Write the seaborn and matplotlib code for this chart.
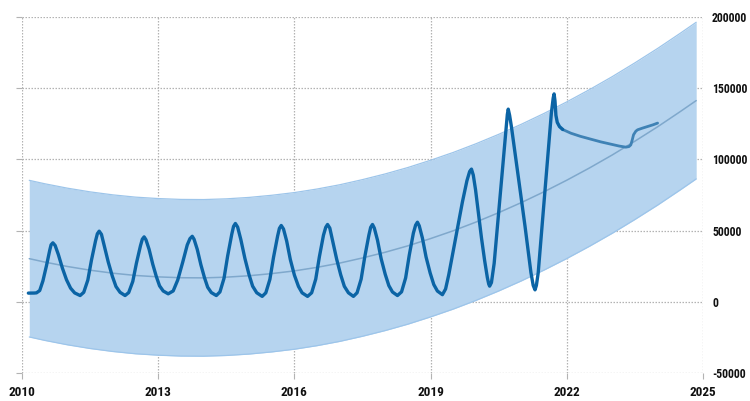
import matplotlib
matplotlib.use("Agg")
import matplotlib.pyplot as plt
from matplotlib import font_manager
import seaborn as sns
import pandas as pd

# ---- data ----
main_t = [2010.14, 2010.20, 2010.27, 2010.32, 2010.39, 2010.46, 2010.54, 2010.61, 2010.64, 2010.68,
          2010.73, 2010.80, 2010.89, 2010.98, 2011.07, 2011.16, 2011.28,
          2011.36, 2011.45, 2011.53, 2011.62, 2011.66, 2011.70,
          2011.75, 2011.81, 2011.90, 2011.99, 2012.07, 2012.16, 2012.27,
          2012.35, 2012.44, 2012.52, 2012.61, 2012.65, 2012.69,
          2012.73, 2012.80, 2012.88, 2012.96, 2013.03, 2013.11, 2013.22,
          2013.33, 2013.43, 2013.54, 2013.64, 2013.70, 2013.75,
          2013.79, 2013.86, 2013.94, 2014.02, 2014.09, 2014.17, 2014.28,
          2014.36, 2014.45, 2014.53, 2014.62, 2014.66, 2014.70,
          2014.75, 2014.82, 2014.91, 2015.00, 2015.08, 2015.17, 2015.29,
          2015.37, 2015.46, 2015.54, 2015.63, 2015.67, 2015.71,
          2015.76, 2015.83, 2015.91, 2016.00, 2016.09, 2016.17, 2016.29,
          2016.38, 2016.47, 2016.55, 2016.64, 2016.69, 2016.73,
          2016.78, 2016.84, 2016.93, 2017.02, 2017.10, 2017.19, 2017.30,
          2017.38, 2017.47, 2017.55, 2017.64, 2017.68, 2017.72,
          2017.76, 2017.83, 2017.91, 2018.00, 2018.08, 2018.16, 2018.27,
          2018.36, 2018.45, 2018.53, 2018.62, 2018.67, 2018.71,
          2018.75, 2018.82, 2018.90, 2018.99, 2019.07, 2019.15, 2019.26,
          2019.33, 2019.40, 2019.50, 2019.60, 2019.70, 2019.80, 2019.86, 2019.90,
          2019.94, 2019.99, 2020.05, 2020.12, 2020.19, 2020.25, 2020.28, 2020.30,
          2020.34, 2020.40, 2020.47, 2020.53, 2020.60, 2020.66, 2020.69, 2020.71,
          2020.74, 2020.78, 2020.88, 2020.98, 2021.08, 2021.16, 2021.21, 2021.26, 2021.30,
          2021.33, 2021.37, 2021.45, 2021.53, 2021.60, 2021.66, 2021.70, 2021.72,
          2021.74, 2021.76, 2021.79, 2021.84, 2021.91]
main_v = [6100, 6100, 6150, 6300, 7900, 14600, 25500, 36100, 40000, 41400,
          39550, 33260, 23640, 15500, 9580, 6250, 4400,
          6660, 15250, 29260, 42820, 47790, 49600,
          47340, 39660, 27900, 17960, 10730, 6660, 4400,
          6460, 14290, 27060, 39420, 43950, 45600,
          43600, 36800, 26400, 17600, 11200, 7600, 5600,
          7620, 15300, 27820, 39940, 44380, 46000,
          43920, 36850, 26030, 16880, 10220, 6480, 4400,
          6930, 16540, 32230, 47410, 52980, 55000,
          52440, 43740, 30420, 19160, 10970, 6360, 3800,
          6290, 15750, 31190, 46130, 51610, 53600,
          51110, 42640, 29700, 18740, 10770, 6290, 3800,
          6330, 15920, 31580, 46730, 52280, 54300,
          51780, 43190, 30060, 18950, 10870, 6330, 3800,
          6330, 15920, 31580, 46730, 52280, 54300,
          51800, 43320, 30350, 19370, 11390, 6900, 4400,
          6980, 16760, 32730, 48180, 53840, 55900,
          53360, 44700, 31470, 20270, 12130, 7550, 5000,
          9000, 19000, 36000, 53000, 70000, 85000, 91500, 93200,
          89000, 78700, 63000, 45000, 29000, 17000, 12500, 11000,
          13500, 27000, 52000, 74000, 99000, 121000, 131500, 135300,
          131000, 123000, 100000, 76500, 53000, 33000, 20500, 11500, 8400,
          11500, 20300, 51200, 82200, 109300, 132500, 143000, 146000,
          141000, 131000, 126000, 123000, 121000]

tail_t = [2021.91, 2022.09, 2022.30, 2022.53, 2022.75, 2022.97, 2023.15, 2023.30, 2023.37,
          2023.41, 2023.44, 2023.47, 2023.52, 2023.56, 2023.67, 2023.78, 2023.90, 2024.00]
tail_v = [121000, 118400, 116200, 114200, 112300, 110700, 109400, 108600, 109000,
          110200, 113500, 117300, 119800, 120800, 122000, 123100, 124300, 125500]

band_t = [2010.16, 2010.5, 2011.0, 2011.5, 2012.0, 2012.5, 2013.0, 2013.5, 2014.0, 2014.5,
          2015.0, 2015.5, 2016.0, 2016.5, 2017.0, 2017.5, 2018.0, 2018.5, 2019.0, 2019.5,
          2020.0, 2020.5, 2021.0, 2021.5, 2022.0, 2022.5, 2023.0, 2023.5, 2024.0, 2024.5, 2024.85]
trend = [30300, 27900, 24800, 22200, 20100, 18500, 17500, 16900, 16800, 17300,
         18300, 19800, 21700, 24200, 27200, 30800, 34800, 39300, 44400, 49900,
         56000, 62600, 69700, 77300, 85400, 94000, 103100, 112800, 122900, 133600, 141300]
lower = [-24700, -27100, -30200, -32800, -34900, -36500, -37500, -38100, -38200, -37700,
         -36700, -35200, -33300, -30800, -27800, -24200, -20200, -15700, -10600, -5100,
         1000, 7600, 14700, 22300, 30400, 39000, 48100, 57800, 67900, 78600, 86300]
upper = [85300, 82900, 79800, 77200, 75100, 73500, 72500, 71900, 71800, 72300,
         73300, 74800, 76700, 79200, 82200, 85800, 89800, 94300, 99400, 104900,
         111000, 117600, 124700, 132300, 140400, 149000, 158100, 167800, 177900, 188600, 196300]

x_ticks = [2010, 2013, 2016, 2019, 2022, 2025]
y_ticks = [-50000, 0, 50000, 100000, 150000, 200000]

# ---- font choice: a narrow bold face like the reference ----
sns.set_style("white")
ttf = font_manager.fontManager.ttflist
names = {f.name for f in ttf}
label_font = None
xsize, ysize = 9.5, 8.5
label_stretch = "normal"
for cand in ["Roboto Condensed", "Liberation Sans Narrow",
             "Open Sans Condensed", "Noto Sans Condensed"]:
    if cand in names:
        label_font = cand
        break
if label_font is None:
    if any(f.name == "DejaVu Sans" and f.stretch not in ("normal", 500) for f in ttf):
        label_font, xsize, ysize, label_stretch = "DejaVu Sans", 8.5, 7.5, "condensed"
    elif "Roboto" in names:
        label_font, xsize, ysize = "Roboto", 9, 8
    else:
        label_font, xsize, ysize = "DejaVu Sans", 8, 7
plt.rcParams['font.family'] = [label_font, 'DejaVu Sans']

# ---- drawing ----
fig = plt.figure(figsize=(7.5, 4.01), dpi=100)
ax = fig.add_axes([22 / 750, 1 - 373 / 401, (703 - 22) / 750, (373 - 17) / 401])

band_df = pd.DataFrame({"t": band_t, "trend": trend, "lower": lower, "upper": upper})
ax.fill_between(band_df["t"], band_df["lower"], band_df["upper"],
                color="#b6d4ef", linewidth=0, zorder=1)
sns.lineplot(data=band_df, x="t", y="upper", ax=ax, color="#9dc5ea", lw=0.9, zorder=2)
sns.lineplot(data=band_df, x="t", y="lower", ax=ax, color="#9dc5ea", lw=0.9, zorder=2)
sns.lineplot(data=band_df, x="t", y="trend", ax=ax, color="#7fa8cc", lw=1.1, zorder=3)

main_df = pd.DataFrame({"t": main_t, "v": main_v})
tail_df = pd.DataFrame({"t": tail_t, "v": tail_v})
sns.lineplot(data=tail_df, x="t", y="v", ax=ax, color="#3f82b5", lw=2.0, zorder=4)
sns.lineplot(data=main_df, x="t", y="v", ax=ax, color="#0b64a5", lw=2.4, zorder=5)

ax.set_xlim(2010, 2025)
ax.set_ylim(-50000, 200000)
ax.set_xticks(x_ticks)
ax.set_yticks(y_ticks)
ax.set_xticklabels([str(v) for v in x_ticks])
ax.set_yticklabels([str(v) for v in y_ticks])
ax.set_xlabel("")
ax.set_ylabel("")

ax.grid(True, color="#b3b3b3", linestyle=(0, (1.2, 1.2)), linewidth=0.9)
ax.set_axisbelow(True)
for s in ax.spines.values():
    s.set_visible(False)

ax.tick_params(axis="x", bottom=True, length=4, width=0.8, color="#b3b3b3",
               labelsize=xsize, labelcolor="#111111", pad=5)
ax.tick_params(axis="y", left=True, right=False, length=4, width=0.8, color="#b3b3b3",
               labelleft=False, labelright=True, labelsize=ysize, labelcolor="#111111", pad=2.5)
for lab in ax.get_xticklabels() + ax.get_yticklabels():
    lab.set_fontweight("bold")
    lab.set_fontstretch(label_stretch)

fig.savefig("out.png", dpi=100)
